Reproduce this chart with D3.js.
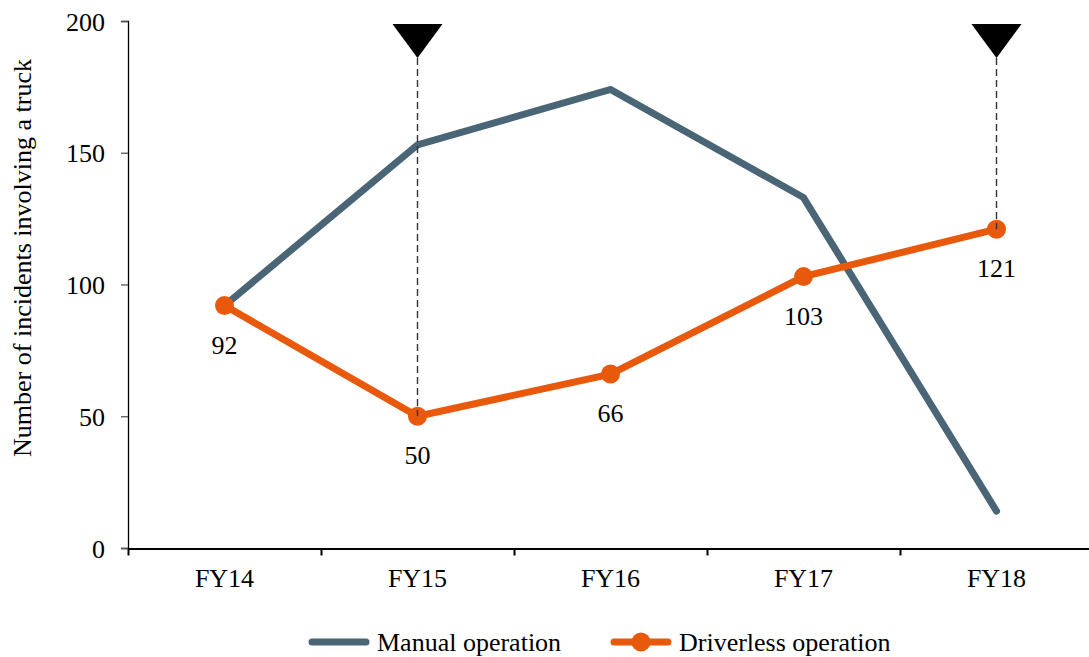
<!DOCTYPE html>
<html>
<head>
<meta charset="utf-8">
<script src="https://cdn.jsdelivr.net/npm/d3@7"></script>
<style>
  body { margin: 0; background: #fff; }
</style>
</head>
<body>
<svg id="chart" width="1089" height="657"></svg>
<script>
// data
const years = ["FY14", "FY15", "FY16", "FY17", "FY18"];
const manual = [92, 153, 174, 133, 14];
const driverless = [92, 50, 66, 103, 121];
const yTicks = [0, 50, 100, 150, 200];
const markedYears = ["FY15", "FY18"];
const seriesNames = ["Manual operation", "Driverless operation"];

const colManual = "#4a6575";
const colDriver = "#e8590c";
const FONT = "Liberation Serif";

const svg = d3.select("#chart");

// scales
const x = d3.scaleBand().domain(years).range([128, 1093]);
const y = d3.scaleLinear().domain([0, 200]).range([548, 21]);
const cx = (d) => x(d) + x.bandwidth() / 2;

// y axis
const yAxis = svg.append("g").attr("transform", "translate(128,0)")
  .call(d3.axisLeft(y).tickValues(yTicks).tickSize(7).tickPadding(16));
yAxis.attr("font-family", null);
yAxis.select(".domain").attr("stroke", "#000").attr("stroke-width", 1.3);
yAxis.selectAll(".tick line").attr("stroke", "#555").attr("stroke-width", 1.3);
yAxis.selectAll("text").style("font-family", FONT).attr("font-size", 26).attr("dy", "0.35em");

// x axis
const xAxis = svg.append("g").attr("transform", "translate(0,548.5)")
  .call(d3.axisBottom(x).tickSize(0).tickPadding(20));
xAxis.attr("font-family", null);
xAxis.select(".domain").attr("stroke", "#000").attr("stroke-width", 2);
xAxis.selectAll("text").style("font-family", FONT).attr("font-size", 26).attr("dy", "0.71em");
// boundary ticks between categories
xAxis.selectAll(".bt").data(years).join("line").attr("class", "bt")
  .attr("x1", (d) => x(d) + 0.5).attr("x2", (d) => x(d) + 0.5)
  .attr("y1", 0).attr("y2", 7).attr("stroke", "#000").attr("stroke-width", 2);

// y axis title
svg.append("text")
  .attr("transform", "translate(31,258) rotate(-90)")
  .attr("text-anchor", "middle")
  .style("font-family", FONT).attr("font-size", 26)
  .text("Number of incidents involving a truck");

// lines
const line = d3.line().x((d, i) => cx(years[i])).y((d) => y(d));

svg.append("path").datum(manual).attr("d", line)
  .attr("fill", "none").attr("stroke", colManual).attr("stroke-width", 7)
  .attr("stroke-linecap", "round");

svg.append("path").datum(driverless).attr("d", line)
  .attr("fill", "none").attr("stroke", colDriver).attr("stroke-width", 7)
  .attr("stroke-linecap", "round");

svg.selectAll(".pt").data(driverless).join("circle").attr("class", "pt")
  .attr("cx", (d, i) => cx(years[i])).attr("cy", (d) => y(d))
  .attr("r", 9.5).attr("fill", colDriver);

// data labels
svg.selectAll(".lbl").data(driverless).join("text").attr("class", "lbl")
  .attr("x", (d, i) => cx(years[i])).attr("y", (d) => y(d) + 39)
  .attr("dy", "0.35em").attr("text-anchor", "middle")
  .style("font-family", FONT).attr("font-size", 26).text((d) => d);

// marker triangles with dashed drop lines
markedYears.forEach((yr) => {
  const px = cx(yr);
  const py = y(driverless[years.indexOf(yr)]);
  svg.append("line").attr("x1", px).attr("x2", px).attr("y1", 58).attr("y2", py)
    .attr("stroke", "#333").attr("stroke-width", 1.4).attr("stroke-dasharray", "7,4");
  svg.append("path")
    .attr("d", `M${px - 25},24 L${px + 25},24 L${px},58 Z`)
    .attr("fill", "#000");
});

// legend
const lg = svg.append("g").style("font-family", FONT).attr("font-size", 26);
lg.append("line").attr("x1", 312).attr("x2", 366).attr("y1", 642).attr("y2", 642)
  .attr("stroke", colManual).attr("stroke-width", 7).attr("stroke-linecap", "round");
lg.append("text").attr("x", 377).attr("y", 642).attr("dy", "0.35em").text(seriesNames[0]);
lg.append("line").attr("x1", 614).attr("x2", 668).attr("y1", 642).attr("y2", 642)
  .attr("stroke", colDriver).attr("stroke-width", 7).attr("stroke-linecap", "round");
lg.append("circle").attr("cx", 641).attr("cy", 642).attr("r", 9.5).attr("fill", colDriver);
lg.append("text").attr("x", 679).attr("y", 642).attr("dy", "0.35em").text(seriesNames[1]);
</script>
</body>
</html>
